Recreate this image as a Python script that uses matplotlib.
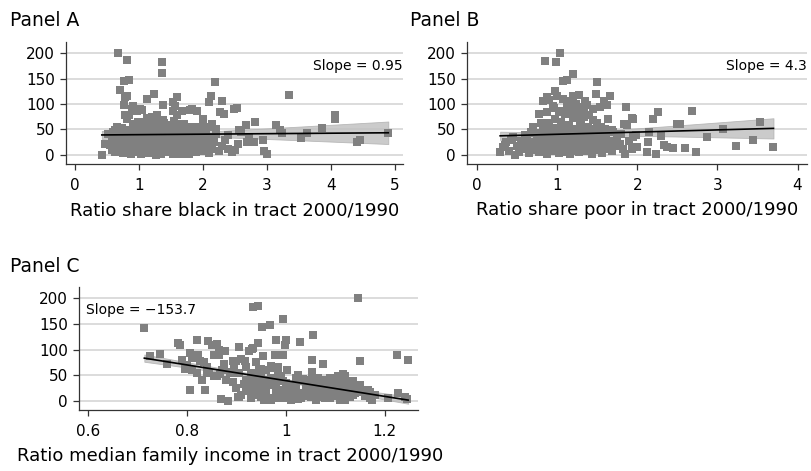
import numpy as np
import matplotlib
matplotlib.use("Agg")
import matplotlib.pyplot as plt

plt.rcParams['font.family'] = ['DejaVu Sans']

# --- Panel A: ratio share black vs. outcome ---
a_x = [0.42, 0.68, 0.81, 1.36, 1.36, 0.76, 0.84, 0.71, 0.78, 0.81, 1.12, 1.23, 1.59, 1.54,
       2.19, 2.12, 2.09, 2.30, 2.53, 0.78, 0.81, 0.91, 0.97, 1.20, 1.28, 1.38, 1.38, 1.59,
       1.54, 1.67, 1.83, 1.91, 2.01, 2.27, 2.33, 2.12, 2.56, 2.59, 2.67, 2.82, 2.69, 2.80,
       2.72, 2.94, 2.95, 3.00, 3.14, 3.21, 3.24, 3.34, 3.53, 3.63, 3.87, 4.06, 4.07, 4.41,
       4.46, 4.90, 0.76, 0.84, 0.89, 1.02, 1.05, 1.12, 1.18, 1.33, 1.57, 1.80, 2.14, 2.48,
       0.47, 0.52, 0.55, 0.58, 0.60, 0.62, 0.65, 0.66, 0.68, 0.70, 0.72, 0.73, 0.75, 0.76,
       0.78, 0.80, 0.80, 0.82, 0.84, 0.86, 0.88, 0.88, 0.90, 0.92, 0.93, 0.95, 0.96, 0.98,
       1.00, 1.00, 1.02, 1.04, 1.05, 1.06, 1.08, 1.10, 1.10, 1.12, 1.14, 1.15, 1.16, 1.18,
       1.20, 1.22, 1.24, 1.25, 1.26, 1.28, 1.30, 1.30, 1.32, 1.34, 1.35, 1.37, 1.40, 1.42,
       1.44, 1.45, 1.47, 1.50, 1.50, 1.52, 1.54, 1.56, 1.58, 1.60, 1.62, 1.63, 1.65, 1.67,
       1.70, 1.72, 1.74, 1.76, 1.78, 1.80, 1.82, 1.85, 1.87, 1.90, 1.92, 1.95, 1.97, 2.00,
       2.02, 2.05, 2.08, 2.10, 2.12, 2.15, 2.18, 2.20, 2.25, 2.30, 2.35, 2.40, 2.45, 2.50,
       2.55, 0.98, 1.15, 1.40, 1.70, 0.92, 1.25, 1.55,
       0.58, 0.63, 0.67, 0.71, 0.74, 0.79, 0.83, 0.87, 0.91, 0.94, 0.99, 1.03, 1.07, 1.11,
       1.13, 1.17, 1.21, 1.23, 1.27, 1.31, 1.36, 1.39, 1.43, 1.46, 1.49, 1.53, 1.57, 1.61,
       1.64, 1.68, 1.71, 1.75, 1.79, 1.83, 1.86, 1.89, 1.93, 1.96, 1.99, 2.03, 2.06, 2.11,
       2.16, 0.69, 0.86, 1.03, 1.19, 1.33, 1.48, 1.66, 1.84, 2.04,
       0.60, 0.70, 0.85, 0.95, 1.05, 1.15, 1.25, 1.35, 1.45, 1.55, 1.65, 1.75, 1.85, 1.95,
       2.05, 0.65, 0.80, 0.90, 1.00, 1.10, 1.20, 1.30, 1.40, 1.60, 1.80, 2.00, 2.20, 2.40,
       0.90, 1.30]
a_y = [0, 200, 186, 183, 160, 146, 148, 128, 113, 115, 110, 120, 113, 104,
       144, 115, 104, 105, 92, 78, 71, 95, 87, 74, 78, 97, 68, 78,
       87, 87, 91, 87, 71, 84, 81, 55, 49, 45, 58, 65, 26, 26,
       35, 29, 8, 1, 58, 49, 42, 118, 32, 43, 53, 78, 71, 26,
       29, 42, 97, 78, 91, 91, 88, 73, 67, 61, 96, 88, 61, 91,
       22, 40, 20, 10, 30, 5, 15, 38, 25, 8, 42, 18, 3, 30,
       12, 22, 48, 6, 35, 15, 2, 28, 45, 10, 20, 55, 33, 5,
       25, 40, 14, 2, 50, 30, 8, 20, 62, 38, 12, 3, 45, 25,
       6, 33, 15, 55, 0, 42, 20, 9, 30, 2, 48, 15, 25, 38,
       5, 58, 18, 30, 10, 44, 2, 22, 35, 12, 52, 28, 5, 40,
       18, 8, 30, 45, 2, 22, 12, 35, 55, 5, 25, 15, 42, 8,
       30, 48, 18, 3, 35, 12, 25, 40, 8, 18, 30, 12, 5, 10,
       22, 65, 60, 62, 60, 58, 64, 66,
       33, 48, 8, 22, 52, 38, 18, 44, 30, 12, 52, 35, 20, 45,
       28, 50, 38, 12, 28, 48, 32, 8, 50, 20, 40, 56, 12, 30,
       18, 52, 38, 14, 46, 25, 8, 40, 30, 50, 20, 42, 10, 55,
       30, 12, 5, 8, 40, 2, 52, 2, 46, 24,
       45, 32, 25, 42, 18, 35, 48, 10, 28, 38, 15, 55, 20, 32,
       22, 55, 40, 60, 65, 50, 62, 68, 58, 60, 45, 60, 50, 38,
       5, 40]

# --- Panel B: ratio share poor vs. outcome ---
b_x = [0.85, 0.99, 1.04, 1.08, 1.12, 1.20, 1.50, 0.98, 1.00, 0.87, 0.83, 1.20, 1.18, 1.35,
       1.37, 1.48, 1.58, 1.66, 1.54, 1.62, 1.64, 0.78, 0.87, 1.06, 1.12, 1.29, 1.31, 1.86,
       1.95, 1.83, 1.87, 1.68, 1.98, 1.95, 1.94, 1.85, 2.15, 2.14, 2.12, 2.23, 2.20, 2.26,
       2.30, 2.33, 2.37, 2.45, 2.50, 2.54, 2.60, 2.68, 2.73, 2.87, 3.07, 3.23, 3.44, 3.53,
       3.70, 0.29, 0.48, 0.45, 0.68, 0.90, 1.27, 1.93, 1.83, 0.67, 0.44, 0.35,
       0.32, 0.36, 0.40, 0.42, 0.50, 0.52, 0.55, 0.58, 0.60, 0.62, 0.65, 0.68, 0.70, 0.72,
       0.74, 0.76, 0.78, 0.80, 0.82, 0.84, 0.86, 0.88, 0.90, 0.90, 0.92, 0.94, 0.95, 0.97,
       0.98, 1.00, 1.00, 1.02, 1.03, 1.05, 1.05, 1.07, 1.08, 1.10, 1.10, 1.12, 1.13, 1.15,
       1.16, 1.18, 1.20, 1.20, 1.22, 1.24, 1.25, 1.27, 1.28, 1.30, 1.32, 1.33, 1.35, 1.36,
       1.38, 1.40, 1.42, 1.44, 1.45, 1.47, 1.50, 1.50, 1.52, 1.55, 1.56, 1.58, 1.60, 1.62,
       1.65, 1.68, 1.70, 1.72, 1.75, 1.78, 1.80, 1.82, 1.90, 2.00, 1.15, 1.25, 1.40, 0.96,
       1.08, 1.45,
       0.62, 0.66, 0.71, 0.75, 0.79, 0.83, 0.87, 0.91, 0.93, 0.96, 0.99, 1.01, 1.04, 1.06,
       1.09, 1.11, 1.14, 1.17, 1.19, 1.21, 1.23, 1.26, 1.29, 1.31, 1.34, 1.37, 1.39, 1.41,
       1.43, 1.46, 1.49, 1.53, 1.57, 1.61, 1.66, 1.03, 1.13, 1.23, 1.33, 0.95,
       0.85, 0.95, 1.05, 1.15, 1.25, 1.35, 1.45, 0.90, 1.00, 1.10, 1.20, 1.30, 1.40, 1.50,
       1.60, 1.70, 0.80, 0.70, 1.18, 1.28]
b_y = [185, 183, 200, 145, 147, 159, 143, 126, 116, 113, 106, 116, 106, 106,
       97, 119, 106, 116, 94, 97, 71, 81, 84, 87, 94, 94, 81, 94,
       71, 61, 58, 48, 39, 35, 12, 2, 45, 26, 5, 2, 71, 84,
       37, 19, 16, 14, 61, 60, 14, 87, 6, 34, 50, 17, 30, 64,
       15, 6, 0, 35, 45, 107, 117, 73, 61, 45, 29, 19,
       15, 25, 8, 30, 18, 5, 28, 12, 38, 20, 3, 25, 10, 42,
       18, 30, 5, 22, 50, 12, 35, 2, 28, 60, 15, 45, 8, 32,
       70, 20, 52, 3, 38, 12, 65, 25, 48, 6, 80, 32, 18, 58,
       2, 40, 22, 72, 10, 50, 30, 5, 62, 18, 42, 88, 8, 28,
       55, 15, 36, 2, 68, 22, 45, 10, 30, 55, 4, 20, 38, 12,
       28, 8, 45, 18, 30, 22, 40, 12, 28, 15, 100, 85, 78, 92,
       110, 90,
       32, 14, 26, 40, 16, 30, 44, 20, 38, 10, 28, 42, 22, 52,
       14, 45, 28, 36, 8, 46, 20, 38, 26, 50, 16, 40, 24, 48,
       12, 34, 26, 18, 40, 30, 16, 85, 95, 100, 75, 95,
       40, 25, 30, 10, 40, 20, 50, 62, 42, 55, 35, 70, 30, 62,
       50, 25, 62, 55, 85, 50]

# --- Panel C: ratio median family income vs. outcome ---
c_x = [0.714, 0.726, 0.745, 0.760, 0.783, 0.786, 0.796, 0.807, 0.810, 0.820, 0.823, 0.827,
       0.807, 0.837, 0.843, 0.850, 0.860, 0.854, 0.864, 0.876, 0.840, 0.854, 0.867, 0.887,
       0.894, 0.868, 0.883, 0.900, 0.917, 0.894, 0.904, 0.931, 0.934, 0.934, 0.944, 0.944,
       0.954, 0.951, 0.968, 0.978, 0.994, 0.981, 1.000, 0.998, 0.995, 0.975, 1.002, 1.029,
       1.055, 1.052, 1.053, 1.075, 1.146, 1.150, 1.224, 1.247, 1.116, 1.136, 1.170, 1.174,
       1.207, 1.227, 1.240, 1.244, 1.096, 1.102, 1.106,
       0.900, 0.910, 0.920, 0.930, 0.930, 0.940, 0.950, 0.950, 0.960, 0.960, 0.970, 0.970,
       0.980, 0.980, 0.990, 0.990, 1.000, 1.000, 1.010, 1.010, 1.020, 1.020, 1.030, 1.030,
       1.040, 1.040, 1.050, 1.050, 1.060, 1.060, 1.070, 1.070, 1.080, 1.080, 1.090, 1.090,
       1.100, 1.100, 1.110, 1.110, 1.120, 1.120, 1.130, 1.130, 1.140, 1.150, 1.160, 1.170,
       1.180, 0.880, 0.890, 0.860, 0.870, 0.840, 0.830, 0.820, 0.800, 0.810, 0.790, 0.920,
       0.930, 0.940, 0.960, 0.970, 0.910, 0.925, 0.940, 0.955, 0.985,
       0.905, 0.915, 0.925, 0.935, 0.945, 0.955, 0.965, 0.975, 0.985, 0.995, 1.005, 1.015,
       1.025, 1.035, 1.045, 1.055, 1.065, 1.075, 1.085, 1.095, 1.105, 1.115, 1.125, 1.135,
       1.145, 1.155, 1.165, 0.905, 0.945, 0.985, 1.025, 1.065, 1.105, 0.835, 0.845, 0.875,
       0.895, 0.815, 0.865, 0.905,
       0.930, 0.945, 0.960, 0.975, 0.990, 1.005, 1.020, 1.035, 1.050, 1.065, 1.080, 1.095,
       1.110, 1.125, 0.940, 0.970, 1.000, 1.030, 1.060, 1.090, 1.120, 0.955, 0.985, 1.015,
       1.045, 1.075, 1.105, 1.135, 0.920, 0.950]
c_y = [143, 87, 92, 71, 112, 109, 63, 94, 84, 118, 90, 77,
       21, 22, 116, 108, 111, 90, 90, 97, 56, 49, 53, 56,
       77, 3, 0, 78, 77, 36, 7, 101, 104, 183, 186, 112,
       87, 145, 147, 90, 159, 119, 118, 108, 90, 64, 60, 114,
       128, 80, 56, 71, 200, 77, 90, 80, 53, 39, 18, 1,
       5, 15, 8, 3, 42, 29, 15,
       25, 12, 40, 5, 30, 18, 50, 8, 35, 22, 2, 42,
       15, 28, 6, 48, 20, 35, 10, 2, 28, 45, 15, 5,
       32, 22, 8, 40, 18, 2, 28, 12, 35, 5, 20, 45,
       10, 30, 2, 38, 18, 48, 8, 25, 15, 30, 10, 5,
       12, 40, 55, 48, 60, 65, 40, 55, 70, 60, 80, 65,
       55, 75, 60, 68, 82, 98, 48, 38, 55,
       8, 32, 20, 45, 12, 28, 40, 6, 22, 38, 14, 30,
       4, 42, 25, 12, 35, 20, 8, 32, 22, 6, 38, 12,
       28, 18, 22, 55, 62, 65, 50, 45, 48, 75, 55, 72,
       62, 85, 100, 105,
       15, 25, 12, 30, 20, 25, 10, 15, 28, 8, 22, 14,
       25, 30, 35, 45, 5, 38, 30, 5, 2, 2, 38, 18,
       10, 40, 38, 20, 20, 62]

# fitted line: slope, intercept, fitted x-range, CI half-width params (h0 at x0, growth k)
a_fit = dict(slope=0.95, icpt=38.6, xr=(0.42, 4.90), x0=1.5, h0=4.0, k=6.4)
b_fit = dict(slope=4.3, icpt=36.0, xr=(0.29, 3.70), x0=1.2, h0=4.0, k=7.8)
c_fit = dict(slope=-153.7, icpt=193.0, xr=(0.714, 1.247), x0=0.98, h0=3.0, k=24.0)

PT_COLOR = '#808080'
GRID_COLOR = '#d6d6d6'


def draw_panel(ax, xs, ys, fit, xlim, xticks, xlabel, slope_txt, txt_pos, txt_ha):
    ax.set_xlim(*xlim)
    ax.set_ylim(-18, 222)
    ax.set_yticks([0, 50, 100, 150, 200])
    ax.set_xticks(xticks)
    ax.set_xticklabels([f"{t:g}" for t in xticks])
    ax.grid(axis='y', color=GRID_COLOR, linewidth=1.2, zorder=0)
    ax.set_axisbelow(True)
    for s in ['top', 'right']:
        ax.spines[s].set_visible(False)
    for s in ['left', 'bottom']:
        ax.spines[s].set_color('#333333')
        ax.spines[s].set_linewidth(0.9)
    ax.tick_params(axis='both', labelsize=11, length=4, width=0.9, color='#333333', pad=4)
    ax.tick_params(axis='x', pad=6)

    # confidence band + fitted line
    xx = np.linspace(fit['xr'][0], fit['xr'][1], 100)
    yy = fit['icpt'] + fit['slope'] * xx
    hw = np.sqrt(fit['h0'] ** 2 + (fit['k'] * (xx - fit['x0'])) ** 2)
    ax.fill_between(xx, yy - hw, yy + hw, color='#c2c2c2', alpha=0.85, linewidth=0.6,
                    edgecolor='#b0b0b0', zorder=1)
    ax.plot(xs, ys, 's', color=PT_COLOR, markersize=6.0, markeredgewidth=0, zorder=2)
    ax.plot(xx, yy, color='black', linewidth=1.2, zorder=3)

    ax.set_xlabel(xlabel, fontsize=13, labelpad=6)
    ax.text(txt_pos[0], txt_pos[1], slope_txt, transform=ax.transAxes, fontsize=10,
            ha=txt_ha, va='center')


fig = plt.figure(figsize=(8.12, 4.71), dpi=100)

ax_a = fig.add_axes([0.0813, 0.652, 0.415, 0.259])
draw_panel(ax_a, a_x, a_y, a_fit, (-0.14, 5.13), [0, 1, 2, 3, 4, 5],
           "Ratio share black in tract 2000/1990", "Slope = 0.95", (1.0, 0.80), 'right')

ax_b = fig.add_axes([0.575, 0.652, 0.419, 0.259])
draw_panel(ax_b, b_x, b_y, b_fit, (-0.125, 4.12), [0, 1, 2, 3, 4],
           "Ratio share poor in tract 2000/1990", "Slope = 4.3", (1.0, 0.80), 'right')

ax_c = fig.add_axes([0.0973, 0.1295, 0.4175, 0.261])
draw_panel(ax_c, c_x, c_y, c_fit, (0.582, 1.267), [0.6, 0.8, 1.0, 1.2],
           "Ratio median family income in tract 2000/1990", "Slope = \u2212153.7",
           (0.02, 0.81), 'left')
# the long label sits centred under the whole panel, tick labels included
ax_c.xaxis.label.set_x(0.445)

fig.text(10 / 812, 1 - 20 / 471, "Panel A", fontsize=13.5, va='center', ha='left')
fig.text(410 / 812, 1 - 20 / 471, "Panel B", fontsize=13.5, va='center', ha='left')
fig.text(10 / 812, 1 - 266 / 471, "Panel C", fontsize=13.5, va='center', ha='left')

fig.savefig("out.png", dpi=100)
